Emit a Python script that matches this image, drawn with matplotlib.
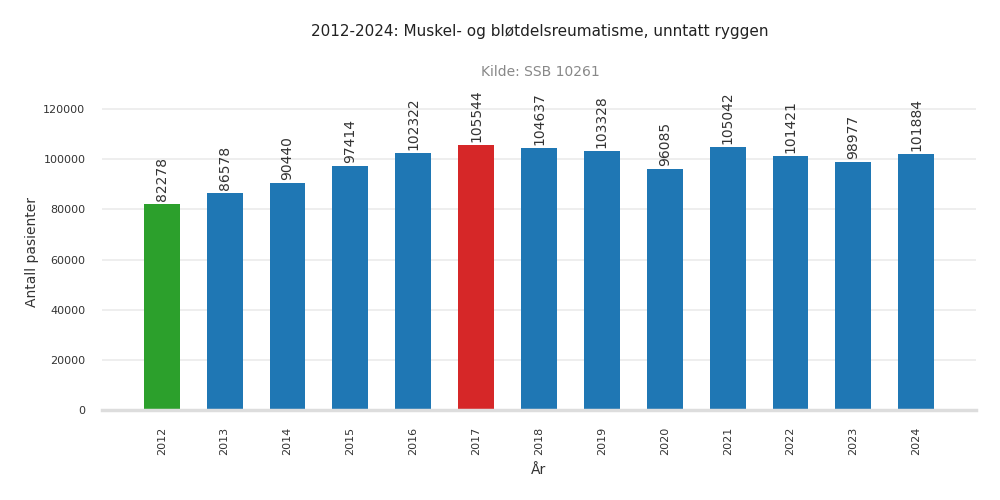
import matplotlib
matplotlib.use('Agg')
import matplotlib.pyplot as plt

years = ['2012', '2013', '2014', '2015', '2016', '2017', '2018',
         '2019', '2020', '2021', '2022', '2023', '2024']
patients = [82278, 86578, 90440, 97414, 102322, 105544, 104637,
            103328, 96085, 105042, 101421, 98977, 101884]

# lowest year green, highest red, rest blue
lo = patients.index(min(patients))
hi = patients.index(max(patients))
colors = ['#1f77b4'] * len(patients)
colors[lo] = '#2ca02c'
colors[hi] = '#d62728'

plt.rcParams['font.family'] = ['DejaVu Sans']

fig = plt.figure(figsize=(10, 5), dpi=100)
ax = fig.add_axes([0.102, 0.18, 0.874, 0.632])

x = list(range(len(years)))
ax.bar(x, patients, width=0.57, color=colors, zorder=3)

for xi, v in zip(x, patients):
    ax.text(xi, v + 1200, str(v), rotation=90, ha='center', va='bottom',
            fontsize=10, color='#333333', zorder=4)

ax.set_xlim(-0.95, 12.95)
ax.set_ylim(0, 126000)
ax.set_yticks(range(0, 120001, 20000))
ax.set_xticks(x)
ax.set_xticklabels(years, rotation=90)
ax.tick_params(axis='x', length=0, pad=12, labelsize=8, labelcolor='#333333')
ax.tick_params(axis='y', length=0, pad=12, labelsize=8, labelcolor='#333333')

ax.grid(axis='y', color='#ebebeb', linewidth=1.2, zorder=0)
for s in ['top', 'right', 'left']:
    ax.spines[s].set_visible(False)
ax.spines['bottom'].set_color('#dddddd')
ax.spines['bottom'].set_linewidth(2.5)
ax.spines['bottom'].set_zorder(5)

ax.set_xlabel('År', fontsize=10, color='#333333', labelpad=6)
ax.set_ylabel('Antall pasienter', fontsize=10, color='#333333', labelpad=3)

fig.text(0.54, 0.937, '2012-2024: Muskel- og bløtdelsreumatisme, unntatt ryggen',
         ha='center', va='center', fontsize=11, color='#222222')
fig.text(0.54, 0.855, 'Kilde: SSB 10261', ha='center', va='center',
         fontsize=10, color='#888888')

fig.savefig('out.png', dpi=100)
